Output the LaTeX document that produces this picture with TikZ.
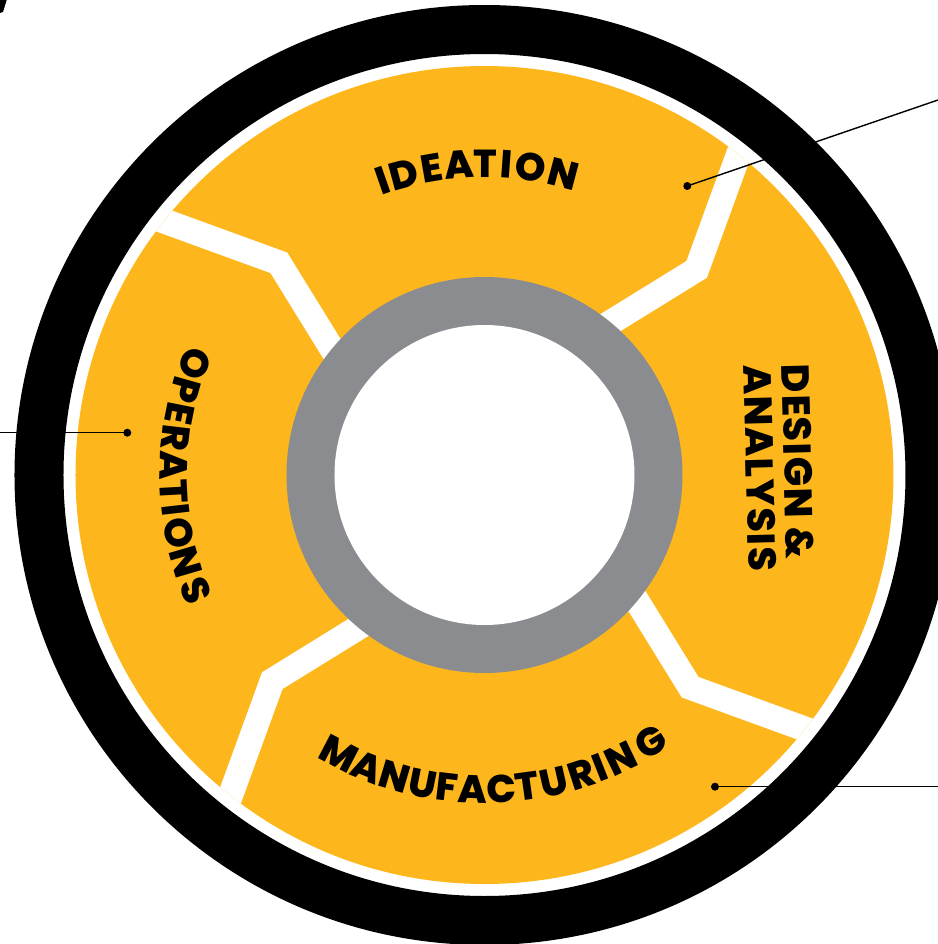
\documentclass[tikz,border=0pt]{standalone}
\usepackage{fontspec}
\IfFontExistsTF{Poppins ExtraBold}{%
  \newfontfamily\pop{Poppins ExtraBold}%
  \newfontfamily\popls{Poppins ExtraBold}[LetterSpace=4]%
}{%
  \newfontfamily\pop{Poppins}[UprightFont=* Bold]%
  \newfontfamily\popls{Poppins}[UprightFont=* Bold, LetterSpace=8]%
}
\usetikzlibrary{calc}
\definecolor{wheelyellow}{RGB}{253,183,29}
\definecolor{wheelgray}{RGB}{139,140,143}
\begin{document}
\begin{tikzpicture}[x=0.5pt,y=0.5pt,
  letter/.style={font=\pop\fontsize{19.5}{19.5}\selectfont, inner sep=0pt, anchor=base},
  linetext/.style={font=\popls\fontsize{19.5}{19.5}\selectfont, inner sep=0pt, anchor=center, rotate=-88.5},
  sepband/.style={draw=white, line width=12.5pt, line join=miter, line cap=butt},
  leader/.style={draw=black, line width=0.7pt},
  leaderdot/.style={circle, fill=black, inner sep=0pt, minimum size=4pt}]
\useasboundingbox (-484.5,-469) rectangle (453.5,475);
% outer black ring
\fill[black, even odd rule] (0,0) circle (470) (0,0) circle (421);
% yellow disk
\fill[wheelyellow] (0,0) circle (409);
% separators
\begin{scope}
\clip (0,0) circle (409);
\foreach \a in {0,90,180,270}{
  \coordinate (k\a) at (44.1+\a:295.5);
  \draw[sepband] ($(k\a)!1.6!(50.3+\a:199)$) -- (k\a) -- ($(k\a)!1.2!(51.6+\a:409)$);
}
\end{scope}
% gray ring
\fill[wheelgray] (0,0) circle (198);
\fill[white] (0,0) circle (150);
% IDEATION
\foreach \ch/\ang [count=\i] in {I/109.15, D/105.06, E/99.85, A/94.65, T/89.8, I/85.9, O/81.45, N/75.24}
  \node[letter, rotate=\ang-90] (ide\i) at (\ang:297.5) {\ch};
% OPERATIONS
\foreach \ch/\ang [count=\i] in {O/159.0, P/164.2, E/168.7, R/173.2, A/178.3, T/183.1, I/186.5, O/190.7, N/196.3, S/201.9}
  \node[letter, rotate=\ang+90] (ope\i) at (\ang:324.5) {\ch};
% MANUFACTURING
\foreach \ch/\ang [count=\i] in {M/242.4, A/248.1, N/253.45, U/258.65, F/263.2, A/267.9, C/273.1, T/277.9, U/282.75, R/287.95, I/291.6, N/295.7, G/301.8}
  \node[letter, rotate=\ang+90] (man\i) at (\ang:328.5) {\ch};
% DESIGN & ANALYSIS
\node[linetext] (design) at (313.5,13.5) {DESIGN \&};
\node[linetext] (analysis) at (275.5,7) {ANALYSIS};
% leaders
\node[leaderdot] (dotide) at (202.8,289) {};
\coordinate (endide) at (453.5,375);
\draw[leader] (dotide.center) -- (endide);
\node[leaderdot] (dotope) at (-357.2,42.3) {};
\coordinate (endope) at (-484.5,42.3);
\draw[leader] (dotope.center) -- (endope);
\node[leaderdot] (dotman) at (230.5,-311.7) {};
\coordinate (endman) at (453.5,-311.7);
\draw[leader] (dotman.center) -- (endman);
% cropped mark top-left
\fill[black] (-484.5,475) -- (-477.8,475) -- (-481.5,463) -- (-484.5,462) -- cycle;
\end{tikzpicture}
\end{document}
